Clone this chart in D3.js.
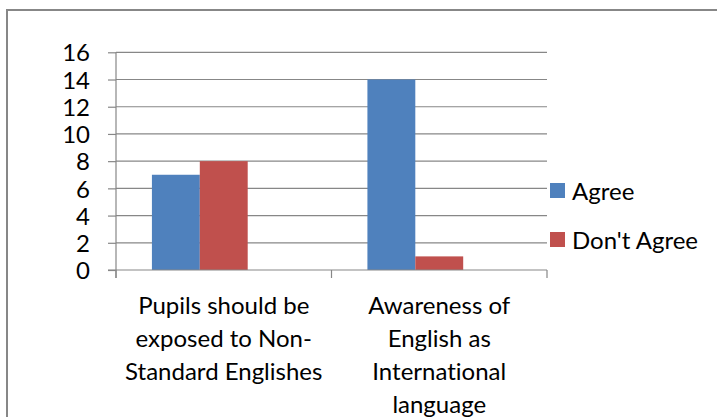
<!DOCTYPE html>
<html>
<head>
<meta charset="utf-8">
<script src="https://cdn.jsdelivr.net/npm/d3@7"></script>
<style>
  html, body { margin: 0; padding: 0; background: #fff; }
  svg { display: block; font-family: Lato, "Open Sans", sans-serif; font-variant-ligatures: none; }
</style>
</head>
<body>
<svg id="chart" width="717" height="417"></svg>
<script>
// Survey responses per statement
const categories = [
  "Pupils should be exposed to Non-Standard Englishes",
  "Awareness of English as International language"
];
// Wrapped lines for the category axis labels
const categoryLines = [
  ["Pupils should be", "exposed to Non-", "Standard Englishes"],
  ["Awareness of", "English as", "International", "language"]
];
const seriesNames = ["Agree", "Don't Agree"];
const agreeValues = [7, 14];
const dontAgreeValues = [8, 1];
const seriesColors = ["#4F81BD", "#C0504D"];
const yTicks = [0, 2, 4, 6, 8, 10, 12, 14, 16];

const svg = d3.select("#chart");
const W = 717, H = 417;
const plot = { left: 116, right: 547, top: 52.3, bottom: 270 };
const grey = "#878787";
const fontSize = 24;

// chart frame
svg.append("rect")
  .attr("x", 7).attr("y", 10)
  .attr("width", W + 10).attr("height", H + 10)
  .attr("fill", "#fff").attr("stroke", grey).attr("stroke-width", 2);

const y = d3.scaleLinear().domain([0, 16]).range([plot.bottom, plot.top]);
const x0 = d3.scaleBand().domain(categories).range([plot.left, plot.right]).paddingInner(0).paddingOuter(0);
// three bar slots per group (last slot stays empty), gap width 150%
const slots = [...seriesNames, "_spare"];
const groupInner = x0.bandwidth();
const barW = groupInner / (slots.length + 1.5);
const x1 = d3.scaleBand().domain(slots)
  .range([barW * 0.75, groupInner - barW * 0.75]).padding(0);

// gridlines
svg.append("g")
  .selectAll("line").data(yTicks.filter(t => t > 0)).join("line")
  .attr("x1", plot.left).attr("x2", plot.right)
  .attr("y1", d => y(d)).attr("y2", d => y(d))
  .attr("stroke", grey).attr("stroke-width", 1.2);

// bars
const rows = categories.map((c, i) => ({ cat: c, values: [agreeValues[i], dontAgreeValues[i]] }));
const groups = svg.append("g").selectAll("g").data(rows).join("g")
  .attr("transform", d => `translate(${x0(d.cat)},0)`);
groups.selectAll("rect")
  .data(d => d.values.map((v, j) => ({ name: seriesNames[j], v, color: seriesColors[j] })))
  .join("rect")
  .attr("x", d => x1(d.name))
  .attr("width", x1.bandwidth())
  .attr("y", d => y(d.v))
  .attr("height", d => y(0) - y(d.v))
  .attr("fill", d => d.color);

// y axis
const yAxis = d3.axisLeft(y).tickValues(yTicks).tickSize(8).tickPadding(18);
const gy = svg.append("g").attr("transform", `translate(${plot.left},0)`).call(yAxis);
gy.select(".domain").attr("stroke", grey).attr("stroke-width", 1.2).attr("d", `M-0,${plot.top}V${plot.bottom + 8}`);
gy.selectAll(".tick line").attr("stroke", grey).attr("stroke-width", 1.2);
gy.selectAll(".tick text")
  .attr("font-family", "Lato, 'Open Sans', sans-serif")
  .attr("font-size", fontSize).attr("fill", "#000")
  .attr("dy", "0.36em");

// x axis line and category boundary ticks
svg.append("line")
  .attr("x1", plot.left - 8).attr("x2", plot.right)
  .attr("y1", y(0)).attr("y2", y(0))
  .attr("stroke", grey).attr("stroke-width", 1.2);
const boundaries = [...categories.map(c => x0(c)), plot.right];
svg.append("g").selectAll("line").data(boundaries).join("line")
  .attr("x1", d => d).attr("x2", d => d)
  .attr("y1", y(0)).attr("y2", y(0) + 8)
  .attr("stroke", grey).attr("stroke-width", 1.2);

// category labels
const lineH = 33;
svg.append("g").selectAll("text").data(categories).join("text")
  .attr("text-anchor", "middle")
  .attr("font-size", fontSize).attr("fill", "#000")
  .each(function (c, i) {
    const t = d3.select(this);
    categoryLines[i].forEach((ln, k) => {
      t.append("tspan")
        .attr("x", x0(c) + x0.bandwidth() / 2)
        .attr("y", plot.bottom + 44 + k * lineH)
        .text(ln);
    });
  });

// legend
const legendY = d3.scalePoint().domain(seriesNames).range([191, 240]);
const lg = svg.append("g").selectAll("g").data(seriesNames).join("g")
  .attr("transform", d => `translate(550,${legendY(d)})`);
lg.append("rect").attr("x", 0).attr("y", -8).attr("width", 15).attr("height", 15)
  .attr("fill", (d, i) => seriesColors[i]);
lg.append("text").attr("x", 22).attr("dy", "0.36em")
  .attr("font-size", fontSize).attr("fill", "#000")
  .text(d => d);
</script>
</body>
</html>
